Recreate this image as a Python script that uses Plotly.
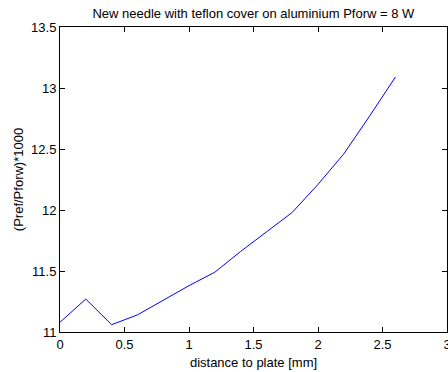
import plotly.graph_objects as go

distance = [0, 0.2, 0.4, 0.6, 0.8, 1.0, 1.2, 1.4, 1.6, 1.8, 2.0, 2.2, 2.4, 2.6]
ratio = [11.08, 11.27, 11.06, 11.14, 11.26, 11.38, 11.49, 11.66, 11.82, 11.98, 12.21, 12.46, 12.77, 13.09]
x_ticks = [0, 0.5, 1, 1.5, 2, 2.5, 3]
y_ticks = [11, 11.5, 12, 12.5, 13, 13.5]

fig = go.Figure()
fig.add_trace(go.Scatter(x=distance, y=ratio, mode="lines",
                         line=dict(color="#0000ff", width=1), showlegend=False))

axis_common = dict(showline=True, mirror="ticks", linecolor="black", linewidth=1,
                   ticks="inside", ticklen=5, tickcolor="black", showgrid=False,
                   zeroline=False, tickfont=dict(size=13, color="black"),
                   ticklabeloverflow="allow", automargin=False)

fig.update_layout(
    width=448, height=372,
    margin=dict(l=60, r=1, t=27, b=40),
    paper_bgcolor="white", plot_bgcolor="white",
    font=dict(family="Liberation Sans, Arial, sans-serif", size=13, color="black"),
    title=dict(text="New needle with teflon cover on aluminium Pforw = 8 W",
               x=0.5655, xanchor="center", y=0.965, yanchor="middle",
               font=dict(size=13)),
    xaxis=dict(range=[0, 3], tickvals=x_ticks, ticktext=[str(v) for v in x_ticks],
               title=dict(text="distance to plate [mm]", standoff=7, font=dict(size=13)),
               **axis_common),
    yaxis=dict(range=[11, 13.5], tickvals=y_ticks, ticktext=[f"{v:g}" for v in y_ticks],
               title=dict(text="(Pref/Pforw)*1000", standoff=4, font=dict(size=13)),
               **axis_common),
)

fig.write_html("out.html")
